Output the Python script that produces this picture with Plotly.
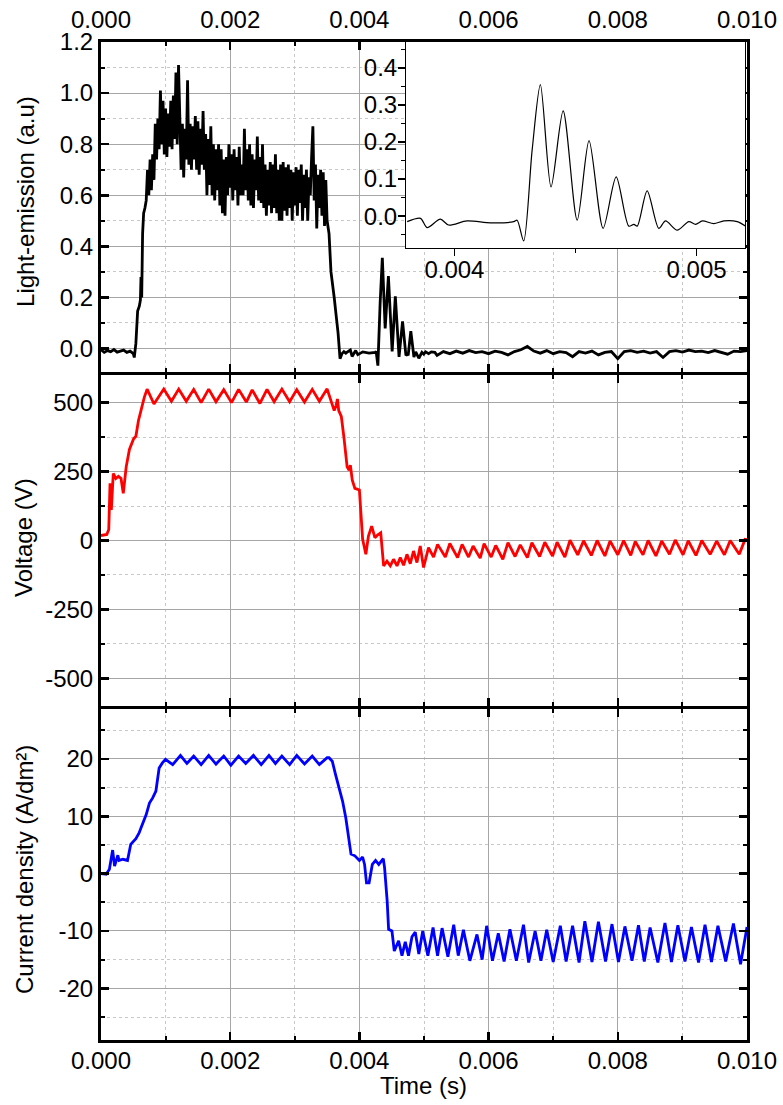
import numpy as np
import plotly.graph_objects as go

# ---------------- data ----------------
# Light emission (a.u.) - pre-rise baseline and rise
light_pre_t = [0.0, 0.00005, 0.0001, 0.00015, 0.0002, 0.00025, 0.0003, 0.00035, 0.0004, 0.00045,
               0.0005, 0.000515, 0.00054, 0.000567, 0.000593, 0.00061, 0.000619, 0.00063, 0.000644,
               0.00066, 0.00068]
light_pre_v = [-0.005, -0.015, -0.008, -0.012, -0.004, -0.014, -0.010, -0.006, -0.015, -0.010,
               -0.020, -0.035, 0.020, 0.147, 0.166, 0.19, 0.28, 0.20, 0.45, 0.53, 0.55]

# noisy plateau, sampled every 20 us starting at 0.70 ms
light_plateau_t0 = 0.0007
light_plateau_dt = 0.00002
light_plateau_v = [
    0.58, 0.70, 0.60, 0.74, 0.62,
    0.76, 0.66, 0.88, 0.74, 0.90,
    0.78, 1.01, 0.80, 0.97, 0.76,
    0.94, 0.75, 0.92, 0.79, 0.97,
    0.78, 0.99, 0.82, 1.08, 0.80,
    1.11, 0.86, 0.70, 0.88, 0.67,
    0.86, 0.74, 1.05, 0.72, 0.88,
    0.70, 0.87, 0.74, 0.91, 0.70,
    0.89, 0.68, 0.86, 0.72, 0.93,
    0.70, 0.84, 0.60, 0.82, 0.64,
    0.87, 0.60, 0.80, 0.58, 0.78,
    0.62, 0.80, 0.56, 0.78, 0.53,
    0.74, 0.52, 0.75, 0.60, 0.80,
    0.63, 0.76, 0.58, 0.78, 0.62,
    0.75, 0.56, 0.79, 0.60, 0.72,
    0.60, 0.86, 0.62, 0.78, 0.58,
    0.80, 0.56, 0.76, 0.55, 0.74,
    0.62, 0.83, 0.58, 0.75, 0.57,
    0.80, 0.55, 0.72, 0.52, 0.70,
    0.56, 0.73, 0.53, 0.72, 0.55,
    0.76, 0.53, 0.70, 0.50, 0.72,
    0.50, 0.73, 0.54, 0.71, 0.52,
    0.72, 0.55, 0.70, 0.50, 0.69,
    0.56, 0.71, 0.52, 0.70, 0.57,
    0.72, 0.50, 0.68, 0.55, 0.70,
    0.50, 0.67, 0.60, 0.75, 0.87,
    0.58, 0.72, 0.47, 0.68, 0.55,
    0.70, 0.52, 0.69, 0.48, 0.66,
    0.50,
]

# fall back to baseline
light_fall_t = [0.00353, 0.00356, 0.00358, 0.00361, 0.00364, 0.00367, 0.00370, 0.00373, 0.00376, 0.00379]
light_fall_v = [0.45, 0.30, 0.25, 0.20, 0.13, 0.06, -0.04, -0.02, -0.012, -0.018]

# burst detail (also shown in the inset)
inset_t = [0.003805, 0.003860, 0.003887, 0.003942, 0.003976, 0.004052, 0.004149, 0.004245, 0.004259,
           0.004286, 0.004321, 0.004355, 0.004399, 0.004449, 0.004507, 0.004556, 0.004614, 0.004668,
           0.004720, 0.004741, 0.004755, 0.004796, 0.004844, 0.004872, 0.004920, 0.004968, 0.004996,
           0.005024, 0.005071, 0.005113, 0.005168, 0.005202]
inset_v = [-0.015, -0.006, -0.031, -0.008, -0.024, -0.013, -0.018, -0.015, -0.011,
           -0.067, 0.178, 0.355, 0.079, 0.284, -0.011, 0.204, -0.033, 0.106,
           -0.027, -0.022, -0.027, 0.068, -0.033, -0.013, -0.038, -0.015, -0.022,
           -0.013, -0.020, -0.013, -0.015, -0.027]

# tail baseline, every 0.1 ms from 5.3 ms
light_tail_t0 = 0.0053
light_tail_dt = 0.0001
light_tail_v = [-0.012, -0.020, -0.010, -0.018, -0.008, -0.016, -0.012, -0.020, -0.010, -0.015,
                -0.025, -0.012, -0.005, 0.008, -0.010, -0.018, -0.008, -0.020, -0.012, -0.016,
                -0.032, -0.012, -0.018, -0.010, -0.025, -0.015, -0.012, -0.040, -0.012, -0.008,
                -0.015, -0.010, -0.018, -0.012, -0.035, -0.012, -0.008, -0.014, -0.006, -0.012,
                -0.010, -0.016, -0.008, -0.014, -0.022, -0.010, -0.012, -0.008]

# Voltage (V)
volt_t = [0.0, 0.00009, 0.00012, 0.00014, 0.00016, 0.00019, 0.00023, 0.00027, 0.00031, 0.000345,
          0.00039, 0.00044, 0.000505, 0.00054, 0.00058, 0.00062, 0.00067, 0.000714, 0.00082, 0.000972,
          0.00109, 0.001203, 0.00132, 0.001435, 0.00155, 0.001667, 0.00178, 0.0019, 0.00202, 0.00213,
          0.00225, 0.00234, 0.00246, 0.00257, 0.00268, 0.0028, 0.00292, 0.00303, 0.00315, 0.00327,
          0.00338, 0.0035, 0.00358, 0.00361, 0.00364, 0.00366, 0.00368, 0.00372, 0.00376, 0.00381,
          0.00384, 0.00386, 0.00389, 0.00393, 0.0040, 0.00405, 0.0041, 0.00414, 0.00419, 0.00424,
          0.00428, 0.00433,
          0.004375, 0.004427, 0.004478, 0.004529, 0.004582, 0.004633, 0.004684, 0.004736, 0.004787,
          0.004838, 0.004891, 0.004942, 0.004993, 0.00507, 0.005148, 0.00521, 0.00533, 0.00540,
          0.00552, 0.00559, 0.00569, 0.00576, 0.00587, 0.00593, 0.00604, 0.00611, 0.00622, 0.00630,
          0.00641, 0.00649, 0.00660, 0.00667, 0.00679, 0.00687, 0.00699, 0.00706, 0.00718, 0.00726,
          0.00738, 0.00747, 0.00759, 0.00768, 0.00780, 0.00788, 0.00800, 0.00809, 0.00820, 0.00827,
          0.00839, 0.00847, 0.00859, 0.00868, 0.00880, 0.00889, 0.00901, 0.00909, 0.00921, 0.00930,
          0.00943, 0.00953, 0.00965, 0.00974, 0.00988, 0.00997, 0.01000]
volt_v = [18, 22, 40, 207, 111, 243, 225, 233, 225, 171,
          267, 330, 369, 378, 435, 477, 519, 549, 495, 549,
          505, 549, 505, 548, 500, 549, 503, 547, 500, 548,
          502, 546, 497, 548, 503, 549, 503, 547, 502, 548,
          505, 550, 490, 471, 490, 513, 471, 450, 375, 267,
          255, 273, 219, 189, 183, 4, -50, 16, 52, 10,
          20, 28,
          -92, -75, -92, -68, -92, -62, -90, -50, -84,
          -38, -80, -20, -98, -26, -60, -14, -60, -11,
          -62, -14, -60, -20, -64, -11, -60, -18, -68, -8,
          -58, -16, -62, -8, -58, -6, -56, -6, -60, 1,
          -52, -1, -54, 0, -56, -2, -52, 0, -54, -3,
          -52, 0, -56, -2, -50, 2, -52, -1, -54, 0,
          -50, -2, -52, 0, -50, 4, 3]

# Current density (A/dm2)
cur_t = [0.0, 0.00008, 0.00013, 0.00018, 0.00021, 0.00023, 0.00026, 0.00028, 0.00034, 0.00041,
         0.00046, 0.00054, 0.00059, 0.00062, 0.0007, 0.00075, 0.0008, 0.00085, 0.0009, 0.00095,
         0.000998, 0.00111, 0.00123, 0.00133, 0.001435, 0.00155, 0.001667, 0.00178, 0.0019, 0.00201,
         0.00213, 0.00224, 0.00236, 0.00248, 0.0026, 0.0027, 0.0028, 0.00292, 0.00303, 0.00315,
         0.00327, 0.00338, 0.0035, 0.00353, 0.00358, 0.00363, 0.00368, 0.00374, 0.00379, 0.00384,
         0.00387, 0.00393, 0.0040, 0.00405, 0.00408, 0.00411, 0.00415, 0.0042, 0.00425, 0.0043,
         0.00437, 0.00439, 0.00443, 0.004452, 0.004504, 0.00454, 0.004607, 0.004659, 0.00471, 0.00476,
         0.004814, 0.004865, 0.00492, 0.00498, 0.00506, 0.00514, 0.00521, 0.00528, 0.00537, 0.00546,
         0.00553, 0.00561, 0.00571, 0.00582, 0.00590, 0.00597, 0.00606, 0.00615, 0.00624, 0.00633,
         0.00643, 0.00654, 0.00662, 0.00672, 0.00681, 0.00690, 0.00700, 0.00711, 0.00720, 0.00730,
         0.00740, 0.00749, 0.00760, 0.00770, 0.00781, 0.00791, 0.00801, 0.00811, 0.00822, 0.00832,
         0.00841, 0.00850, 0.00862, 0.00873, 0.00883, 0.00893, 0.00904, 0.00914, 0.00925, 0.00935,
         0.00945, 0.00955, 0.00967, 0.00979, 0.00990, 0.01000]
cur_v = [0.0, -0.1, 0.75, 4.1, 1.3, 2.2, 3.2, 2.3, 2.5, 2.3,
         5.1, 6.1, 7.1, 8.0, 10.3, 12.3, 13.2, 14.4, 18.4, 19.3,
         19.9, 19.0, 20.6, 19.2, 20.5, 19.0, 20.6, 19.1, 20.5, 18.9,
         20.5, 19.2, 20.6, 19.0, 20.6, 19.2, 20.5, 19.0, 20.6, 19.1,
         20.5, 19.0, 20.2, 20.2, 19.6, 17.3, 15.0, 12.6, 9.7, 5.7,
         3.4, 3.1, 2.3, 2.9, 1.6, -1.6, -1.6, 1.6, 2.3, 1.6,
         2.6, 1.0, -4.8, -9.7, -10.0, -13.5, -11.7, -14.3, -11.9, -14.3,
         -11.0, -10.2, -14.0, -10.0, -14.3, -9.4, -14.3, -9.5, -14.5, -8.9,
         -14.3, -9.8, -15.2, -10.6, -15.0, -9.1, -15.2, -10.4, -15.3, -9.7,
         -15.2, -8.9, -15.5, -10.0, -15.2, -9.8, -15.4, -9.1, -15.3, -9.1,
         -15.5, -8.3, -15.4, -8.4, -15.3, -8.8, -15.4, -9.2, -15.2, -9.0,
         -15.3, -9.4, -15.5, -8.6, -15.4, -9.0, -15.3, -9.3, -15.5, -8.9,
         -15.4, -9.1, -15.3, -8.7, -15.8, -9.3]

# tick settings
x_ticks = [0.000, 0.002, 0.004, 0.006, 0.008, 0.010]
x_ticklabels = ["0.000", "0.002", "0.004", "0.006", "0.008", "0.010"]
light_ticks = [0.0, 0.2, 0.4, 0.6, 0.8, 1.0, 1.2]
light_ticklabels = ["0.0", "0.2", "0.4", "0.6", "0.8", "1.0", "1.2"]
volt_ticks = [-500, -250, 0, 250, 500]
volt_ticklabels = ["-500", "-250", "0", "250", "500"]
cur_ticks = [-20, -10, 0, 10, 20]
cur_ticklabels = ["-20", "-10", "0", "10", "20"]
inset_xticks = [0.004, 0.005]
inset_xticklabels = ["0.004", "0.005"]
inset_yticks = [0.0, 0.1, 0.2, 0.3, 0.4]
inset_yticklabels = ["0.0", "0.1", "0.2", "0.3", "0.4"]

# ---------------- assemble light series ----------------
plateau_t = light_plateau_t0 + light_plateau_dt * np.arange(len(light_plateau_v))
tail_t = light_tail_t0 + light_tail_dt * np.arange(len(light_tail_v))
light_t = list(light_pre_t) + list(plateau_t) + light_fall_t + inset_t + list(tail_t)
light_v = light_pre_v + light_plateau_v + light_fall_v + inset_v + light_tail_v

FONT = "Liberation Sans, Arial, sans-serif"
FS = 24
GRID = "#a6a6a6"
MINOR_GRID = "#c8c8c8"

fig = go.Figure()
fig.add_trace(go.Scatter(x=light_t, y=light_v, mode="lines", line=dict(color="black", width=2.8),
                         xaxis="x", yaxis="y", showlegend=False, hoverinfo="skip"))
fig.add_trace(go.Scatter(x=volt_t, y=volt_v, mode="lines", line=dict(color="#ff0000", width=2.8),
                         xaxis="x2", yaxis="y2", showlegend=False, hoverinfo="skip"))
fig.add_trace(go.Scatter(x=cur_t, y=cur_v, mode="lines", line=dict(color="#0000ff", width=2.8),
                         xaxis="x3", yaxis="y3", showlegend=False, hoverinfo="skip"))
fig.add_trace(go.Scatter(x=inset_t, y=inset_v, mode="lines",
                         line=dict(color="black", width=1.2, shape="spline", smoothing=0.8),
                         xaxis="x4", yaxis="y4", showlegend=False, hoverinfo="skip"))

common = dict(showline=True, linewidth=3, linecolor="black", mirror="allticks",
              ticks="inside", ticklen=8, tickwidth=2.5, tickcolor="black", automargin=False,
              showgrid=True, gridcolor=GRID, gridwidth=1, zeroline=False,
              tickfont=dict(family=FONT, size=FS, color="black"))


def xax(anchor, side, labels, standoff):
    d = dict(common)
    d.update(anchor=anchor, side=side, range=[0, 0.010], tickvals=x_ticks, ticktext=x_ticklabels,
             showticklabels=labels, ticklabelstandoff=standoff,
             minor=dict(dtick=0.001, tick0=0, ticks="inside", ticklen=4, tickwidth=2,
                        tickcolor="black", showgrid=True, gridcolor=MINOR_GRID, griddash="dot",
                        gridwidth=1))
    return d


def yax(anchor, domain, rng, vals, texts, mdtick):
    d = dict(common)
    d.update(anchor=anchor, domain=domain, range=rng, tickvals=vals, ticktext=texts,
             minor=dict(dtick=mdtick, tick0=0, ticks="inside", ticklen=4, tickwidth=2,
                        tickcolor="black", showgrid=True, gridcolor=MINOR_GRID, griddash="dot",
                        gridwidth=1))
    return d


fig.update_layout(
    width=783, height=1105,
    margin=dict(l=101, r=36, t=42, b=65, autoexpand=False),
    paper_bgcolor="white", plot_bgcolor="white",
    font=dict(family=FONT, size=FS, color="black"),
    hovermode=False,
    xaxis=xax("y", "top", True, 1),
    xaxis2=dict(xax("y2", "bottom", False, 0), matches="x"),
    xaxis3=dict(xax("y3", "bottom", True, -3), matches="x"),
    yaxis=yax("x", [0.6693, 1.0], [-0.092, 1.2], light_ticks, light_ticklabels, 0.1),
    yaxis2=yax("x2", [0.3347, 0.6663], [-600, 600], volt_ticks, volt_ticklabels, 125),
    yaxis3=yax("x3", [0.0, 0.3317], [-29, 28.7], cur_ticks, cur_ticklabels, 5),
    xaxis4=dict(domain=[0.4721, 0.9969], anchor="y4", range=[0.0038, 0.0052], automargin=False,
                tickvals=inset_xticks, ticktext=inset_xticklabels, showline=True, linewidth=1,
                linecolor="black", mirror=True, ticks="outside", ticklen=7, tickwidth=1.5,
                tickcolor="black", showgrid=False, zeroline=False, ticklabelstandoff=-7,
                tickfont=dict(family=FONT, size=FS, color="black"),
                minor=dict(dtick=0.0005, tick0=0, ticks="outside", ticklen=4, tickwidth=1.2,
                           tickcolor="black", showgrid=False)),
    yaxis4=dict(domain=[0.7936, 1.0], anchor="x4", range=[-0.086, 0.47], automargin=False,
                tickvals=inset_yticks, ticktext=inset_yticklabels, showline=True, linewidth=1,
                linecolor="black", mirror=True, ticks="outside", ticklen=7, tickwidth=1.5,
                tickcolor="black", showgrid=False, zeroline=False, ticklabelstandoff=-4,
                tickfont=dict(family=FONT, size=FS, color="black"),
                minor=dict(dtick=0.05, tick0=0, ticks="outside", ticklen=4, tickwidth=1.2,
                           tickcolor="black", showgrid=False)),
)

ann = dict(xref="paper", yref="paper", showarrow=False, textangle=-90,
           font=dict(family=FONT, size=FS, color="black"), xanchor="center", yanchor="middle")
fig.add_annotation(text="Light-emission (a.u)", x=-0.1169, y=0.8402, **ann)
fig.add_annotation(text="Voltage (V)", x=-0.1207, y=0.503, **ann)
fig.add_annotation(text="Current density (A/dm²)", x=-0.1192, y=0.1713, **ann)
fig.add_annotation(text="Time (s)", x=0.4985, y=-0.0451, xref="paper", yref="paper",
                   showarrow=False, font=dict(family=FONT, size=FS, color="black"),
                   xanchor="center", yanchor="middle")

fig.write_html("out.html", config={"displayModeBar": False, "staticPlot": True},
               post_script="document.body.style.margin='0px';document.body.style.overflow='hidden';")
